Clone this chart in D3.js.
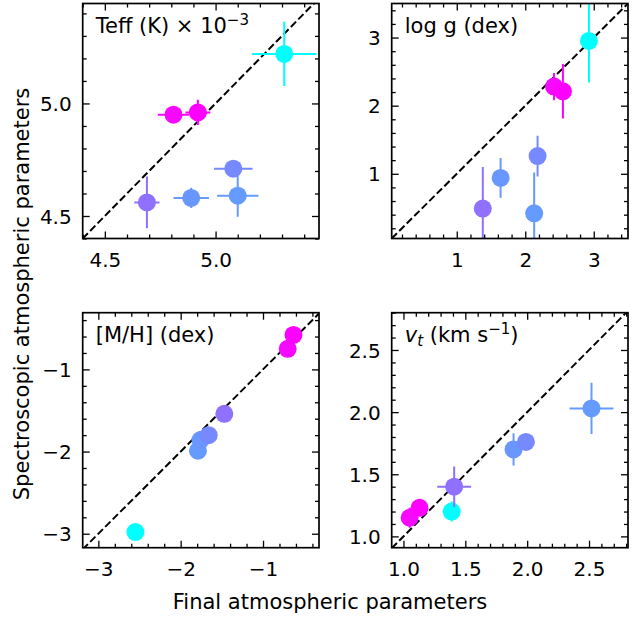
<!DOCTYPE html>
<html>
<head>
<meta charset="utf-8">
<script src="https://cdn.jsdelivr.net/npm/d3@7"></script>
<style>
  body { margin: 0; background: #fff; }
  text { font-family: "DejaVu Sans", sans-serif; fill: #000; }
</style>
</head>
<body>
<div id="chart"></div>
<script>
// Stars (drawing order)
var stars = ["A", "B", "C", "D", "E", "F", "G"];

// Teff (K) x 1e-3
var teffFinal    = [5.31, 4.81, 4.92, 4.69, 5.10, 4.89, 5.08];
var teffFinalErr = [0.146, 0.071, 0.056, 0.057, 0.093, 0.080, 0.087];
var teffSpec     = [5.22, 4.95, 4.96, 4.56, 4.59, 4.58, 4.71];
var teffSpecErr  = [0.143, 0.02, 0.056, 0.115, 0.093, 0.045, 0.03];

// log g (dex)
var loggFinal    = [2.93, 2.42, 2.55, 1.38, 2.13, 1.64, 2.18];
var loggFinalErr = [0, 0, 0, 0, 0, 0, 0];
var loggSpec     = [2.95, 2.28, 2.21, 0.49, 0.42, 0.94, 1.26];
var loggSpecErr  = [0.61, 0.20, 0.40, 0.61, 0.60, 0.29, 0.30];

// [M/H] (dex)
var mhFinal    = [-2.55, -0.70, -0.63, -1.47, -1.79, -1.76, -1.66];
var mhFinalErr = [0, 0, 0, 0, 0, 0, 0];
var mhSpec     = [-2.98, -0.75, -0.58, -1.54, -1.99, -1.86, -1.80];
var mhSpecErr  = [0, 0, 0, 0, 0, 0, 0];

// v_t (km/s)
var vtFinal    = [1.39, 1.05, 1.13, 1.41, 2.52, 1.89, 1.99];
var vtFinalErr = [0.05, 0.03, 0.03, 0.137, 0.177, 0.05, 0.03];
var vtSpec     = [1.20, 1.15, 1.23, 1.40, 2.03, 1.70, 1.76];
var vtSpecErr  = [0.08, 0.08, 0.05, 0.163, 0.207, 0.13, 0.04];

// tick labels
var teffTicks = [4.5, 5.0];
var loggTicks = [1, 2, 3];
var mhTicks   = [-3, -2, -1];
var vtTicks   = [1.0, 1.5, 2.0, 2.5];

var width = 644, height = 617;
var pw = 236.3, ph = 235;

var svg = d3.select("#chart").append("svg")
  .attr("width", width)
  .attr("height", height);

// colour by final metallicity (cyan -> magenta, like "cool")
var color = d3.scaleLinear()
  .domain([d3.min(mhFinal), d3.max(mhFinal)])
  .range(["#00ffff", "#ff00ff"]);

var panels = [
  { x0: 82.7, y0: 3.5, xd: [4.40, 5.467], yd: [4.40, 5.444], ticks: teffTicks, minor: 0.1, fmt: ".1f",
    fx: teffFinal, fxe: teffFinalErr, sy: teffSpec, sye: teffSpecErr },
  { x0: 391.7, y0: 3.5, xd: [0.05, 3.5], yd: [0.05, 3.5], ticks: loggTicks, minor: 0.2, fmt: "d",
    fx: loggFinal, fxe: loggFinalErr, sy: loggSpec, sye: loggSpecErr },
  { x0: 82.7, y0: 312.7, xd: [-3.19, -0.32], yd: [-3.17, -0.31], ticks: mhTicks, minor: 0.2, fmt: "d",
    fx: mhFinal, fxe: mhFinalErr, sy: mhSpec, sye: mhSpecErr },
  { x0: 391.7, y0: 312.7, xd: [0.905, 2.815], yd: [0.909, 2.80], ticks: vtTicks, minor: 0.1, fmt: ".1f",
    fx: vtFinal, fxe: vtFinalErr, sy: vtSpec, sye: vtSpecErr }
];

panels.forEach(function(p, pi) {
  var g = svg.append("g").attr("transform", "translate(" + p.x0 + "," + p.y0 + ")");

  var x = d3.scaleLinear().domain(p.xd).range([0, pw]);
  var y = d3.scaleLinear().domain(p.yd).range([ph, 0]);

  g.append("clipPath").attr("id", "clip" + pi)
    .append("rect").attr("width", pw).attr("height", ph);

  // minor ticks
  function minors(d) {
    var start = Math.ceil(d[0] / p.minor - 1e-6) * p.minor;
    return d3.range(start, d[1] + 1e-9, p.minor).filter(function(v) {
      return !p.ticks.some(function(t) { return Math.abs(t - v) < 1e-6; });
    });
  }
  var fmt = d3.format(p.fmt);

  function addAxis(axis, tr, labels) {
    var a = g.append("g").attr("transform", tr).call(axis);
    a.select(".domain").remove();
    a.selectAll(".tick line").attr("stroke", "#000").attr("stroke-width", 1.3);
    if (!labels) a.selectAll("text").remove();
    return a;
  }

  var xMinor = minors(p.xd), yMinor = minors(p.yd);

  // bottom / left, with labels
  var bx = addAxis(d3.axisBottom(x).tickValues(p.ticks).tickSize(-7).tickPadding(14).tickFormat(fmt),
    "translate(0," + ph + ")", true);
  bx.selectAll("text").attr("font-size", 20).attr("font-family", "DejaVu Sans");
  addAxis(d3.axisBottom(x).tickValues(xMinor).tickSize(-4), "translate(0," + ph + ")", false);

  var ly = addAxis(d3.axisLeft(y).tickValues(p.ticks).tickSize(-7).tickPadding(11).tickFormat(fmt),
    "translate(0,0)", true);
  ly.selectAll("text").attr("font-size", 20).attr("font-family", "DejaVu Sans").attr("dy", "0.36em");
  addAxis(d3.axisLeft(y).tickValues(yMinor).tickSize(-4), "translate(0,0)", false);

  // top / right, no labels
  addAxis(d3.axisTop(x).tickValues(p.ticks).tickSize(-7), "translate(0,0)", false);
  addAxis(d3.axisTop(x).tickValues(xMinor).tickSize(-4), "translate(0,0)", false);
  addAxis(d3.axisRight(y).tickValues(p.ticks).tickSize(-7), "translate(" + pw + ",0)", false);
  addAxis(d3.axisRight(y).tickValues(yMinor).tickSize(-4), "translate(" + pw + ",0)", false);

  var plot = g.append("g").attr("clip-path", "url(#clip" + pi + ")");

  // one-to-one line
  var lo = Math.min(p.xd[0], p.yd[0]), hi = Math.max(p.xd[1], p.yd[1]);
  plot.append("line")
    .attr("x1", x(lo)).attr("y1", y(lo))
    .attr("x2", x(hi)).attr("y2", y(hi))
    .attr("stroke", "#000").attr("stroke-width", 2)
    .attr("stroke-dasharray", "7.4,3.2");

  // stars: error bars then marker
  stars.forEach(function(s, i) {
    var c = color(mhFinal[i]);
    var cx = x(p.fx[i]), cy = y(p.sy[i]);
    if (p.fxe[i] > 0) {
      plot.append("line")
        .attr("x1", x(p.fx[i] - p.fxe[i])).attr("x2", x(p.fx[i] + p.fxe[i]))
        .attr("y1", cy).attr("y2", cy)
        .attr("stroke", c).attr("stroke-width", 2);
    }
    if (p.sye[i] > 0) {
      plot.append("line")
        .attr("x1", cx).attr("x2", cx)
        .attr("y1", y(p.sy[i] - p.sye[i])).attr("y2", y(p.sy[i] + p.sye[i]))
        .attr("stroke", c).attr("stroke-width", 2);
    }
    plot.append("circle")
      .attr("cx", cx).attr("cy", cy).attr("r", 9)
      .attr("fill", c);
  });

  // frame
  g.append("rect").attr("width", pw).attr("height", ph)
    .attr("fill", "none").attr("stroke", "#000").attr("stroke-width", 1.7);

  // panel label
  var t = g.append("text").attr("x", 13).attr("y", 29.5).attr("font-size", 21);
  if (pi === 0) {
    t.append("tspan").text("Teff (K) \u00d7 10");
    t.append("tspan").attr("dy", -8).attr("font-size", 15).text("\u22123");
  } else if (pi === 1) {
    t.text("log g (dex)");
  } else if (pi === 2) {
    t.text("[M/H] (dex)");
  } else {
    t.append("tspan").attr("font-style", "italic").text("v");
    t.append("tspan").attr("font-style", "italic").attr("font-size", 15).attr("dy", 4).text("t");
    t.append("tspan").attr("dy", -4).text(" (km s");
    t.append("tspan").attr("dy", -8).attr("font-size", 15).text("\u22121");
    t.append("tspan").attr("dy", 8).text(")");
  }
});

// shared axis titles
svg.append("text")
  .attr("x", 330).attr("y", 609)
  .attr("text-anchor", "middle").attr("font-size", 21)
  .text("Final atmospheric parameters");

svg.append("text")
  .attr("transform", "translate(28.5,294) rotate(-90)")
  .attr("text-anchor", "middle").attr("font-size", 21)
  .text("Spectroscopic atmospheric parameters");
</script>
</body>
</html>
